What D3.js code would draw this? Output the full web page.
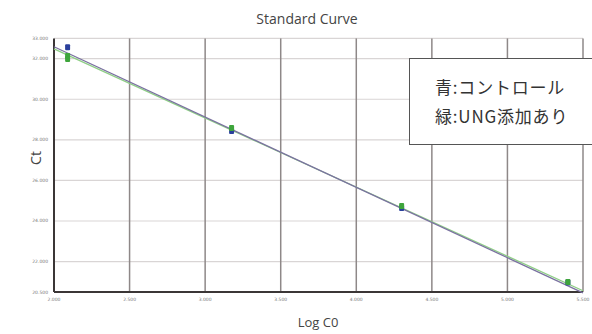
<!DOCTYPE html>
<html><head><meta charset="utf-8">
<script src="https://cdn.jsdelivr.net/npm/d3@7"></script>
<style>body{margin:0;background:#fff}svg{display:block}</style>
</head><body>
<script>
// Data
const xTicks = [2.0, 2.5, 3.0, 3.5, 4.0, 4.5, 5.0, 5.5];
const yTicks = [20.5, 22, 24, 26, 28, 30, 32, 33];
const controlLogC0 = [2.09, 3.175, 4.30, 5.40];
const controlCt = [32.56, 28.43, 24.64, 20.97];
const ungLogC0 = [2.09, 2.09, 3.175, 4.30, 5.40];
const ungCt = [32.13, 31.98, 28.58, 24.74, 20.99];
const fitX = [2.0, 5.5];
const controlFit = [32.59, 20.46];
const ungFit = [32.48, 20.56];
const legendLines = ["青:コントロール", "緑:UNG添加あり"];

const W = 592, H = 334;
const svg = d3.select("body").append("svg").attr("width", W).attr("height", H);
const x = d3.scaleLinear().domain([2.0, 5.5]).range([54, 583]);
const y = d3.scaleLinear().domain([20.5, 33]).range([292, 38.4]);

// horizontal gridlines
svg.append("g").selectAll("line").data(yTicks.filter(d => d > 20.5)).join("line")
  .attr("x1", x(2.0)).attr("x2", x(5.5)).attr("y1", d => y(d)).attr("y2", d => y(d))
  .attr("stroke", "#d9d5d5").attr("stroke-width", 1.2);
// vertical gridlines
svg.append("g").selectAll("line").data(xTicks.filter(d => d > 2.0)).join("line")
  .attr("x1", d => x(d)).attr("x2", d => x(d)).attr("y1", y(33)).attr("y2", y(20.5))
  .attr("stroke", "#8e8888").attr("stroke-width", 1.5);

// axes lines
svg.append("line").attr("x1", x(2.0)).attr("x2", x(2.0)).attr("y1", y(33)).attr("y2", y(20.5))
  .attr("stroke", "#3b3636").attr("stroke-width", 2);
svg.append("line").attr("x1", x(2.0)).attr("x2", x(5.5)).attr("y1", y(20.5)).attr("y2", y(20.5))
  .attr("stroke", "#3b3636").attr("stroke-width", 2);

// tick labels
const fmt = d3.format(".3f");
svg.append("g").selectAll("text").data(yTicks).join("text")
  .attr("x", x(2.0) - 6).attr("y", d => y(d) + 1.5).attr("text-anchor", "end")
  .attr("font-size", 4.5).attr("fill", "#777").attr("font-family", "DejaVu Sans")
  .text(d => fmt(d));
svg.append("g").selectAll("text").data(xTicks).join("text")
  .attr("x", d => x(d)).attr("y", y(20.5) + 9).attr("text-anchor", "middle")
  .attr("font-size", 4.5).attr("fill", "#777").attr("font-family", "DejaVu Sans")
  .text(d => fmt(d));

// fit lines
const line = d3.line().x(d => x(d[0])).y(d => y(d[1]));
svg.append("path").datum(fitX.map((v, i) => [v, ungFit[i]])).attr("d", line)
  .attr("fill", "none").attr("stroke", "#8fcf86").attr("stroke-width", 1.3);
svg.append("path").datum(fitX.map((v, i) => [v, controlFit[i]])).attr("d", line)
  .attr("fill", "none").attr("stroke", "#7a72a0").attr("stroke-width", 1.3);

// points
const s = 5;
svg.append("g").selectAll("rect").data(controlLogC0.map((v, i) => [v, controlCt[i]])).join("rect")
  .attr("x", d => x(d[0]) - s / 2).attr("y", d => y(d[1]) - 3).attr("width", s).attr("height", 6)
  .attr("rx", 1).attr("fill", "#2a3f9c");
svg.append("g").selectAll("rect").data(ungLogC0.map((v, i) => [v, ungCt[i]])).join("rect")
  .attr("x", d => x(d[0]) - s / 2).attr("y", d => y(d[1]) - 3).attr("width", s).attr("height", 6)
  .attr("rx", 1).attr("fill", "#3ea53c");

// titles
svg.append("text").attr("x", 307).attr("y", 24).attr("text-anchor", "middle")
  .attr("font-family", "'Open Sans', 'Noto Sans', sans-serif").attr("font-size", 14).attr("fill", "#444")
  .text("Standard Curve");
svg.append("text").attr("transform", "translate(41,158) rotate(-90)").attr("text-anchor", "middle")
  .attr("font-family", "'Open Sans', 'Noto Sans', sans-serif").attr("font-size", 14).attr("fill", "#444")
  .text("Ct");
svg.append("text").attr("x", 318).attr("y", 327).attr("text-anchor", "middle")
  .attr("font-family", "'Open Sans', 'Noto Sans', sans-serif").attr("font-size", 13).attr("fill", "#444")
  .text("Log C0");

// legend
svg.append("rect").attr("x", 409.5).attr("y", 58.5).attr("width", 200).attr("height", 86)
  .attr("fill", "#fff").attr("stroke", "#555").attr("stroke-width", 1);
svg.append("g").selectAll("text").data(legendLines).join("text")
  .attr("x", 435).attr("y", (d, i) => 94 + i * 29)
  .attr("font-family", "'Noto Sans CJK JP', sans-serif").attr("font-size", 17)
  .attr("letter-spacing", 0.8).attr("fill", "#333")
  .text(d => d);
</script>
</body></html>
